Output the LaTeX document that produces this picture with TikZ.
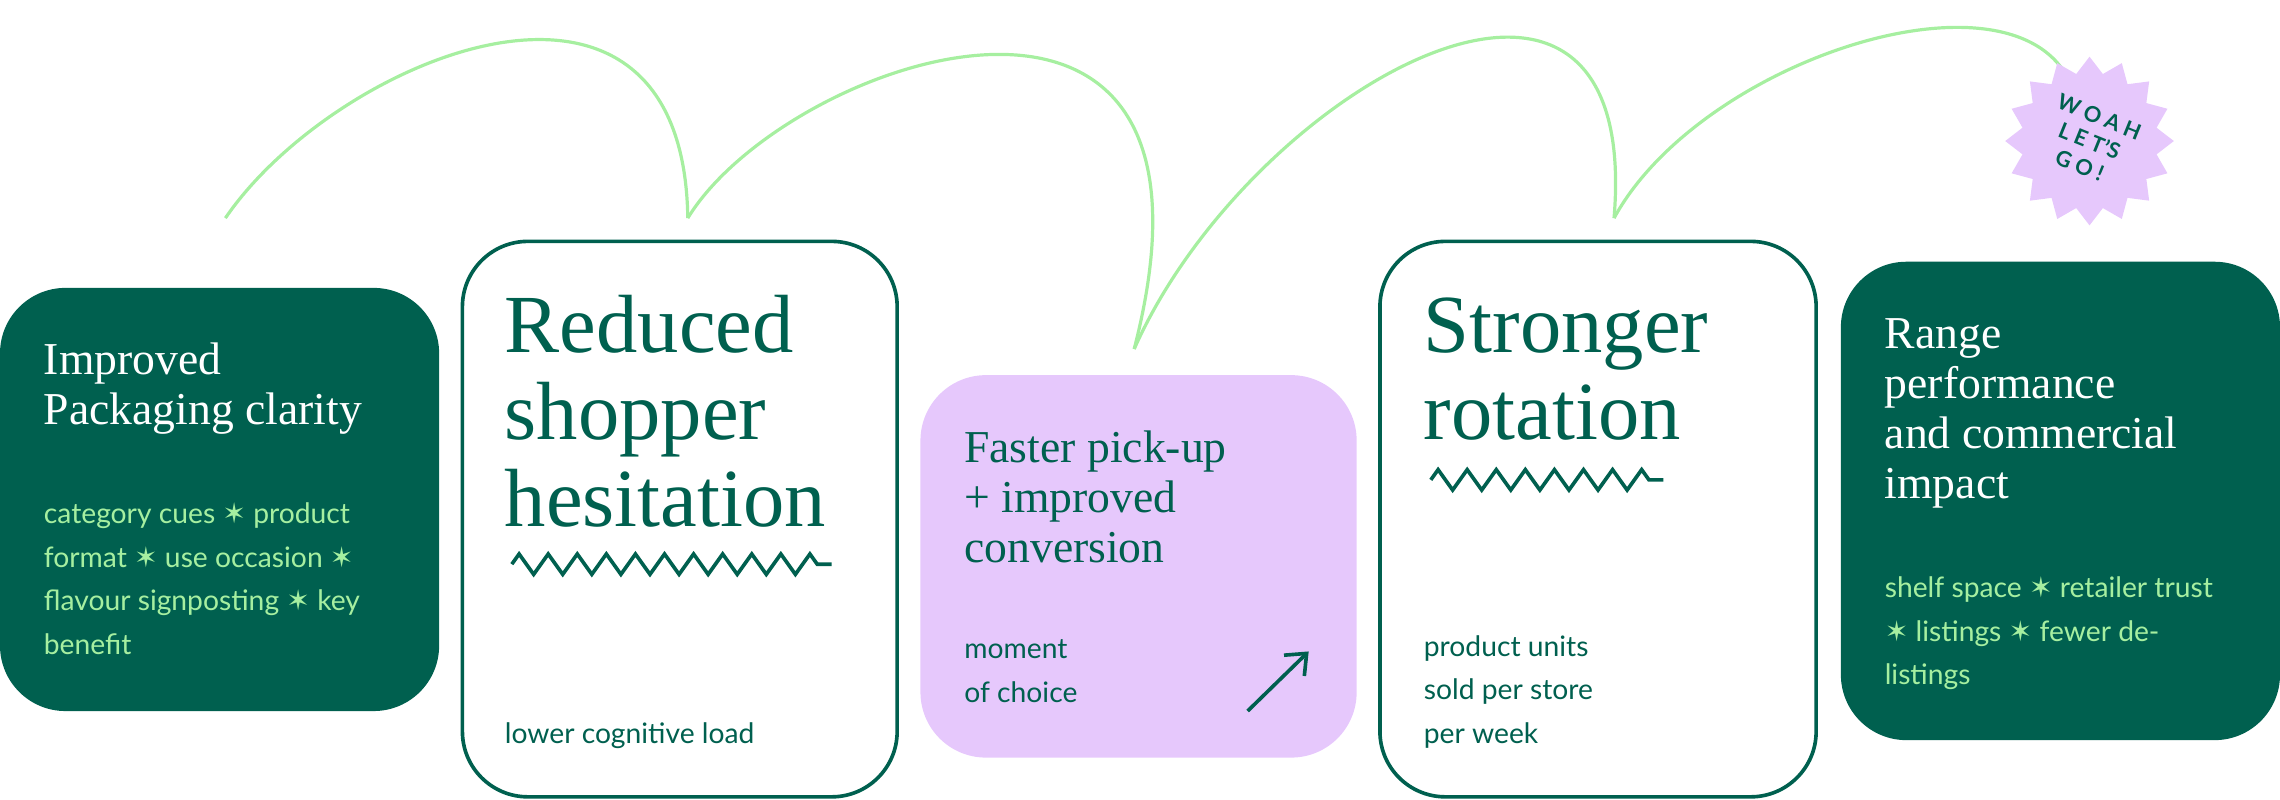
\documentclass[tikz,border=0pt]{standalone}
\usepackage{fontspec}
\setmainfont{Lato}
\newfontfamily\hd{Liberation Serif}
\newfontfamily\sym{DejaVu Sans}
\usetikzlibrary{arrows.meta,decorations.pathmorphing}
\definecolor{dg}{HTML}{00604F}
\definecolor{lg}{HTML}{A6EFA0}
\definecolor{lav}{HTML}{E6C8FC}
\newcommand{\st}{{\sym\char"2736}}
\begin{document}
\begin{tikzpicture}[x=1bp,y=-1bp,
  card/.style={rounded corners=45bp,line width=2.5bp},
  big/.style={anchor=base west,align=left,font=\hd\fontsize{57}{60}\selectfont,text=dg,inner sep=0},
  mid/.style={anchor=base west,align=left,font=\hd\fontsize{31.5}{34.5}\selectfont,inner sep=0},
  small/.style={anchor=base west,align=left,font=\fontsize{19.5}{30}\selectfont,inner sep=0},
  arc/.style={draw=lg,line width=2.2bp},
  zz/.style={dg,line width=2.5bp,decorate,decoration={zigzag,segment length=20bp,amplitude=7bp}}]
\useasboundingbox (0,0) rectangle (1568,550);
% arcs
\coordinate (p1) at (155,150); \coordinate (p2) at (473,150);
\coordinate (p3) at (780,240); \coordinate (p4) at (1110,150);
\coordinate (p5) at (1425,60);
\draw[arc] (p1) .. controls (230,40) and (470,-60) .. (p2);
\draw[arc] (p2) .. controls (540,40) and (860,-70) .. (p3);
\draw[arc] (p3) .. controls (860,60) and (1130,-90) .. (p4);
\draw[arc] (p4) .. controls (1170,40) and (1390,-30) .. (p5);
% starburst
\fill[lav] plot[samples=33,domain=0:32,variable=\k] ({1437+(mod(\k,2)==0 ? 58 : 47)*cos(\k*360/32)},{97+(mod(\k,2)==0 ? 58 : 47)*sin(\k*360/32)}) -- cycle;
\node[rotate=-22,align=center,font=\bfseries\fontsize{15}{18}\selectfont,text=dg] (woah) at (1437,97) {W O A H\\L E T'S\\G O !};
% box 1
\fill[dg,rounded corners=45bp] (0,198) rectangle (302,489);
\node[mid,text=white] (t1) at (30,292) {Improved\\Packaging clarity};
\node[small,text=lg] (s1) at (30,450) {category cues \st{} product\\format \st{} use occasion \st\\flavour signposting \st{} key\\benefit};
% box 2
\draw[card,draw=dg,fill=white] (318,166) rectangle (617,548);
\node[big] (t2) at (347,362) {Reduced\\shopper\\hesitation};
\draw[zz] (352,388) -- (572,388);
\node[small,text=dg] (s2) at (347,511) {lower cognitive load};
% box 3
\fill[lav,rounded corners=45bp] (633,258) rectangle (933,521);
\node[mid,text=dg] (t3) at (663,387) {Faster pick-up\\+ improved\\conversion};
\node[small,text=dg] (s3) at (663,483) {moment\\of choice};
\coordinate (a1) at (858,489); \coordinate (a2) at (900,448);
\draw[dg,line width=2.5bp,-{Straight Barb[length=12bp,width=20bp]}] (a1) -- (a2);
% box 4
\draw[card,draw=dg,fill=white] (949,166) rectangle (1249,548);
\node[big] (t4) at (979,302) {Stronger\\rotation};
\draw[zz] (984,330) -- (1144,330);
\node[small,text=dg] (s4) at (979,511) {product units\\sold per store\\per week};
% box 5
\fill[dg,rounded corners=45bp] (1266,180) rectangle (1568,509);
\node[mid,text=white] (t5) at (1296,343) {Range\\performance\\and commercial\\impact};
\node[small,text=lg] (s5) at (1296,471) {shelf space \st{} retailer trust\\\st{} listings \st{} fewer de-\\listings};
\end{tikzpicture}
\end{document}
